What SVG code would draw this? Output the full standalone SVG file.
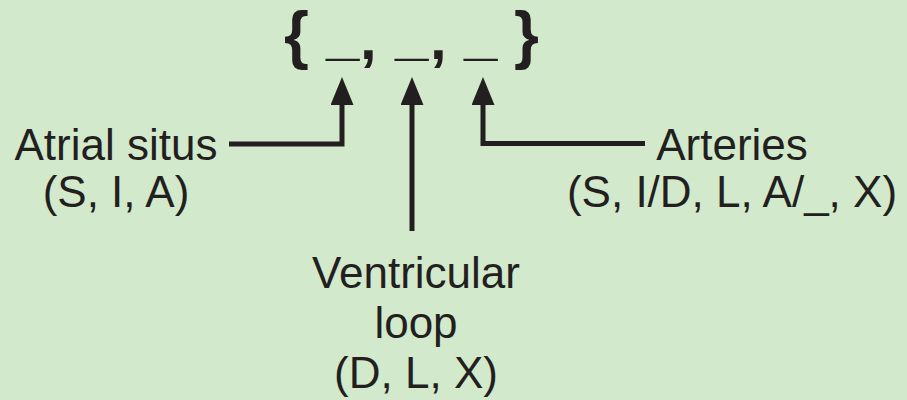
<svg xmlns="http://www.w3.org/2000/svg" width="907" height="400" viewBox="0 0 907 400">
<style>
.t{font-family:"Liberation Sans",Arial,sans-serif;font-size:44px;fill:#231f20;text-anchor:middle}
.b{font-family:"Liberation Sans",Arial,sans-serif;font-size:60px;font-weight:bold;fill:#231f20}
.br{font-size:64px}
.c{fill:none;stroke:#231f20;stroke-width:5;stroke-linejoin:miter}
</style>
<defs>
<marker id="ah" markerUnits="userSpaceOnUse" markerWidth="28" markerHeight="23" refX="15" refY="11.5" orient="auto" viewBox="0 0 28 23">
<path d="M0,0 L28,11.5 L0,23 Z" fill="#231f20"/>
</marker>
</defs>
<rect width="907" height="400" fill="#d2e9cb"/>
<g id="notation">
<text class="b"><tspan class="br" x="284" y="57">{</tspan><tspan x="326" y="53.5">_</tspan><tspan x="360" y="59">,</tspan><tspan x="395" y="53.5">_</tspan><tspan x="430" y="59">,</tspan><tspan x="464" y="53.5">_</tspan><tspan class="br" x="514" y="57">}</tspan></text>
</g>
<g id="connectors">
<path class="c" d="M229,144 H342 V90" marker-end="url(#ah)"/>
<path class="c" d="M412,231 V90" marker-end="url(#ah)"/>
<path class="c" d="M645,143.5 H483 V90" marker-end="url(#ah)"/>
</g>
<g id="atrial">
<text class="t" x="116" y="160">Atrial situs</text>
<text class="t" x="116" y="207">(S, I, A)</text>
</g>
<g id="arteries">
<text class="t" x="732" y="160">Arteries</text>
<text class="t" x="732" y="207">(S, I/D, L, A/_, X)</text>
</g>
<g id="ventricular">
<text class="t" x="416" y="288">Ventricular</text>
<text class="t" x="416" y="338">loop</text>
<text class="t" x="416" y="388">(D, L, X)</text>
</g>
</svg>
